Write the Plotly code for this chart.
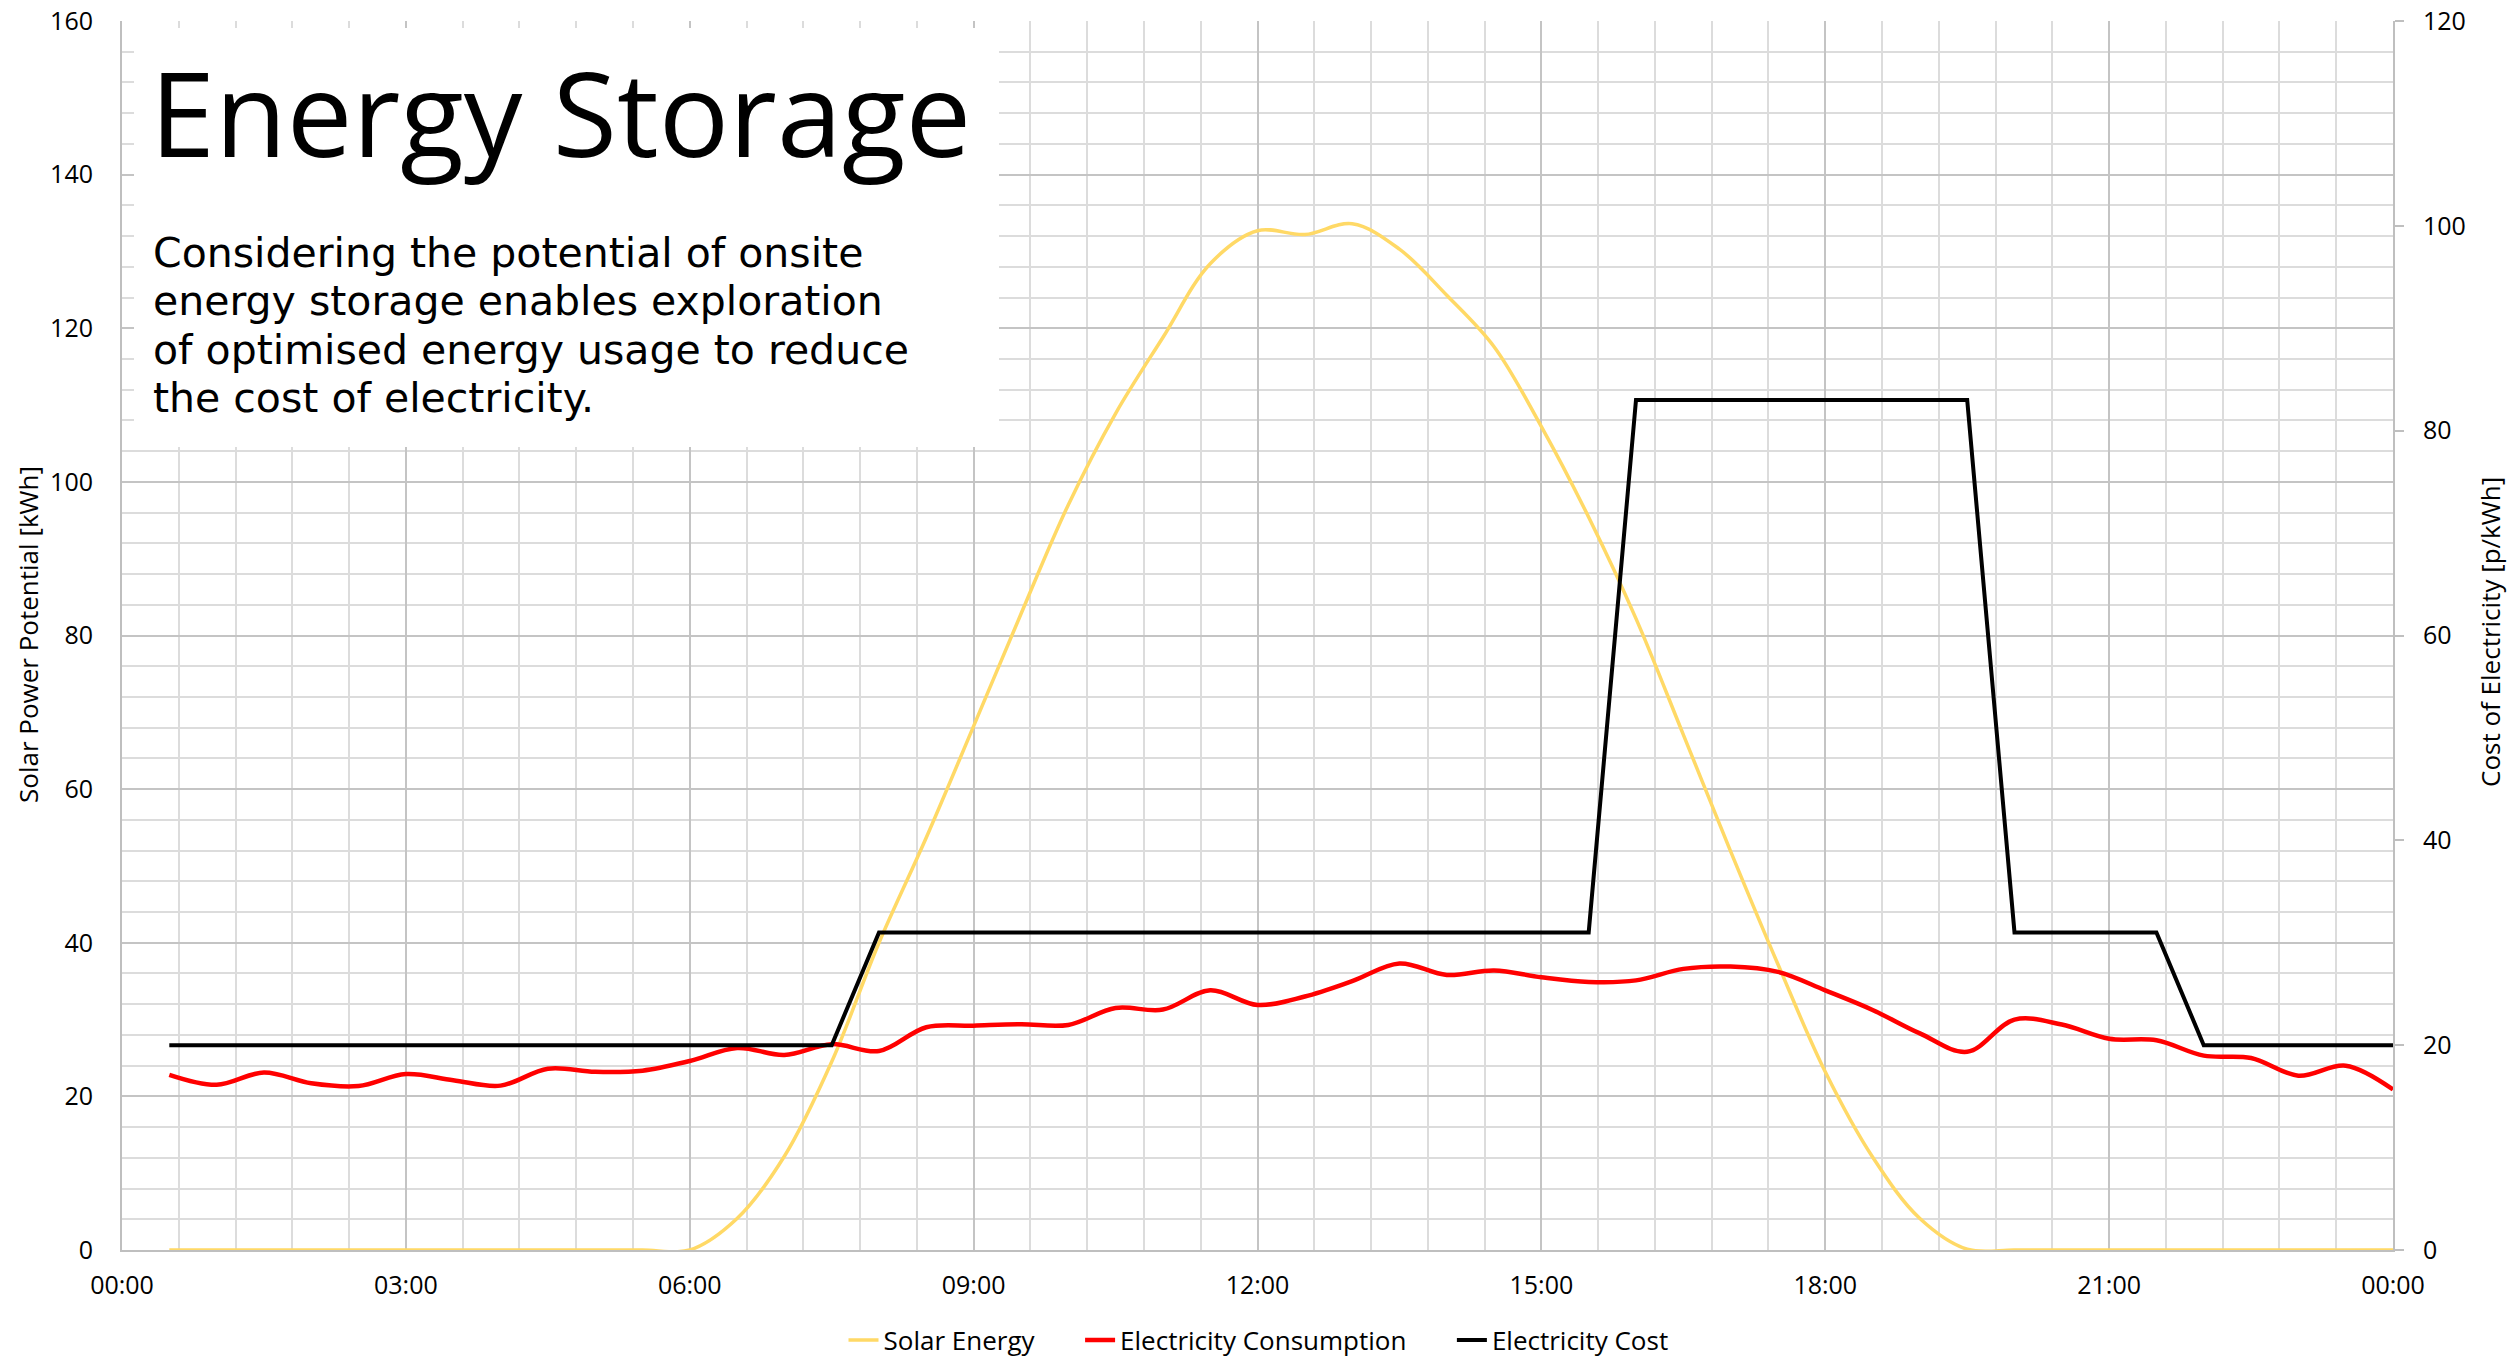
import plotly.graph_objects as go

# ---------------- data ----------------
time_labels = [
    "00:30", "01:00", "01:30", "02:00", "02:30", "03:00", "03:30", "04:00",
    "04:30", "05:00", "05:30", "06:00", "06:30", "07:00", "07:30", "08:00",
    "08:30", "09:00", "09:30", "10:00", "10:30", "11:00", "11:30", "12:00",
    "12:30", "13:00", "13:30", "14:00", "14:30", "15:00", "15:30", "16:00",
    "16:30", "17:00", "17:30", "18:00", "18:30", "19:00", "19:30", "20:00",
    "20:30", "21:00", "21:30", "22:00", "22:30", "23:00", "23:30", "24:00",
]

solar_energy = [
    0, 0, 0, 0, 0, 0, 0, 0,
    0, 0, 0, 0, 4.1, 12.2, 24.5, 40.0,
    53.7, 68.2, 82.8, 97.0, 108.9, 118.8, 128.4, 132.7,
    132.2, 133.6, 130.3, 124.3, 117.6, 107.2, 95.4, 82.2,
    67.1, 51.9, 37.2, 23.2, 12.1, 4.1, 0.1, 0,
    0, 0, 0, 0, 0, 0, 0, 0,
]

electricity_consumption = [
    22.8, 21.5, 23.1, 21.7, 21.35, 22.9, 22.1, 21.4,
    23.6, 23.2, 23.35, 24.6, 26.3, 25.4, 26.8, 25.9,
    29.0, 29.2, 29.4, 29.3, 31.5, 31.3, 33.8, 31.9,
    33.0, 35.0, 37.3, 35.8, 36.4, 35.5, 34.9, 35.1,
    36.6, 36.9, 36.2, 33.8, 31.25, 28.2, 25.8, 30.0,
    29.35, 27.5, 27.3, 25.3, 25.0, 22.7, 24.0, 20.9,
]

electricity_cost = [
    20, 20, 20, 20, 20, 20, 20, 20,
    20, 20, 20, 20, 20, 20, 20, 31,
    31, 31, 31, 31, 31, 31, 31, 31,
    31, 31, 31, 31, 31, 31, 31, 83,
    83, 83, 83, 83, 83, 83, 83, 31,
    31, 31, 31, 20, 20, 20, 20, 20,
]

series_names = ["Solar Energy", "Electricity Consumption", "Electricity Cost"]

x_tick_vals = [0, 3, 6, 9, 12, 15, 18, 21, 24]
x_tick_text = ["00:00", "03:00", "06:00", "09:00", "12:00", "15:00", "18:00", "21:00", "00:00"]

title_text = "Energy Storage"
body_lines = [
    "Considering the potential of onsite",
    "energy storage enables exploration",
    "of optimised energy usage to reduce",
    "the cost of electricity.",
]

# convert time labels to hours
hours = [int(t.split(":")[0]) + int(t.split(":")[1]) / 60 for t in time_labels]

FONT = "'Open Sans', Lato, sans-serif"
BODY_FONT = "'DejaVu Sans', 'Open Sans', sans-serif"
GAP = "\u00a0" * 6

fig = go.Figure()
fig.add_trace(go.Scatter(
    x=hours, y=solar_energy, name=series_names[0] + GAP, mode="lines",
    line=dict(color="#FFD966", width=3.5, shape="spline", smoothing=1.0),
))
fig.add_trace(go.Scatter(
    x=hours, y=electricity_consumption, name=series_names[1] + GAP, mode="lines",
    line=dict(color="#FF0000", width=4.5, shape="spline", smoothing=1.0),
))
fig.add_trace(go.Scatter(
    x=hours, y=electricity_cost, name=series_names[2], mode="lines",
    line=dict(color="#000000", width=4), yaxis="y2",
))

W, H = 2517, 1357
L, R, T, B = 122, 124, 21, 107
pw = W - L - R
ph = H - T - B


def px_x(x):
    return (x - L) / pw


def px_y(y):
    return (H - B - y) / ph


fig.update_layout(
    template="none",
    width=W, height=H,
    margin=dict(l=L, r=R, t=T, b=B, pad=0, autoexpand=False),
    paper_bgcolor="white", plot_bgcolor="white",
    font=dict(family=FONT, size=26, color="#000000"),
    showlegend=True,
    legend=dict(
        orientation="h", x=0.5, xanchor="center", xref="container",
        y=1 - 1340 / H, yanchor="middle", yref="container",
        font=dict(size=26, family=FONT, color="#000000"),
        bgcolor="rgba(0,0,0,0)", borderwidth=0,
    ),
    xaxis=dict(
        range=[0, 24], tickmode="array", tickvals=x_tick_vals, ticktext=x_tick_text,
        showgrid=True, gridcolor="#C4C4C4", gridwidth=2,
        minor=dict(dtick=0.6, tick0=0, showgrid=True, gridcolor="#DCDCDC", gridwidth=2),
        showline=True, linecolor="#BFBFBF", linewidth=2,
        ticks="", zeroline=False, automargin=False, ticklabelstandoff=12,
        tickfont=dict(size=25, family=FONT, color="#000000"),
    ),
    yaxis=dict(
        range=[0, 160], dtick=20, tick0=0,
        showgrid=True, gridcolor="#C4C4C4", gridwidth=2,
        minor=dict(dtick=4, tick0=0, showgrid=True, gridcolor="#DCDCDC", gridwidth=2),
        showline=True, linecolor="#BFBFBF", linewidth=2,
        ticks="", zeroline=False, ticklabelstandoff=22, automargin=False,
        tickfont=dict(size=25, family=FONT, color="#000000"),
    ),
    yaxis2=dict(
        range=[0, 120], dtick=20, tick0=0, overlaying="y", side="right",
        showgrid=False, zeroline=False,
        showline=True, linecolor="#BFBFBF", linewidth=2,
        ticks="outside", ticklen=9, tickcolor="#BFBFBF", tickwidth=2,
        ticklabelstandoff=14, automargin=False,
        tickfont=dict(size=25, family=FONT, color="#000000"),
    ),
)

# white text panel over the grid
fig.add_shape(
    type="rect", xref="paper", yref="paper",
    x0=px_x(134), x1=px_x(999), y0=px_y(447), y1=px_y(28),
    fillcolor="white", line=dict(width=0), layer="above",
)

annotations = [
    dict(text=title_text, x=px_x(148), y=px_y(111.6), xref="paper", yref="paper",
         xanchor="left", yanchor="middle", showarrow=False,
         font=dict(size=117, family=FONT, color="#000000")),
]

# body paragraph: one text block; glyphs at 41px, line pitch from 37px base (1.3em ~ 48px)
body_html = "<br>".join(f"<span style='font-size:41px'>{ln}</span>" for ln in body_lines)
annotations.append(dict(
    text=body_html, x=px_x(151), y=px_y(325), xref="paper", yref="paper",
    xanchor="left", yanchor="middle", align="left", showarrow=False,
    font=dict(size=37.2, family=BODY_FONT, color="#000000")))

annotations.append(dict(
    text="Solar Power Potential [kWh]", x=px_x(28), y=px_y(635), xref="paper", yref="paper",
    xanchor="center", yanchor="middle", textangle=-90, showarrow=False,
    font=dict(size=26, family=FONT, color="#000000")))
annotations.append(dict(
    text="Cost of Electricity [p/kWh]", x=px_x(2490), y=px_y(632), xref="paper", yref="paper",
    xanchor="center", yanchor="middle", textangle=-90, showarrow=False,
    font=dict(size=26, family=FONT, color="#000000")))

fig.update_layout(annotations=annotations)

fig.write_html(
    "out.html",
    config={"displayModeBar": False},
    post_script="document.body.style.margin='0';document.body.style.overflow='hidden';",
)
